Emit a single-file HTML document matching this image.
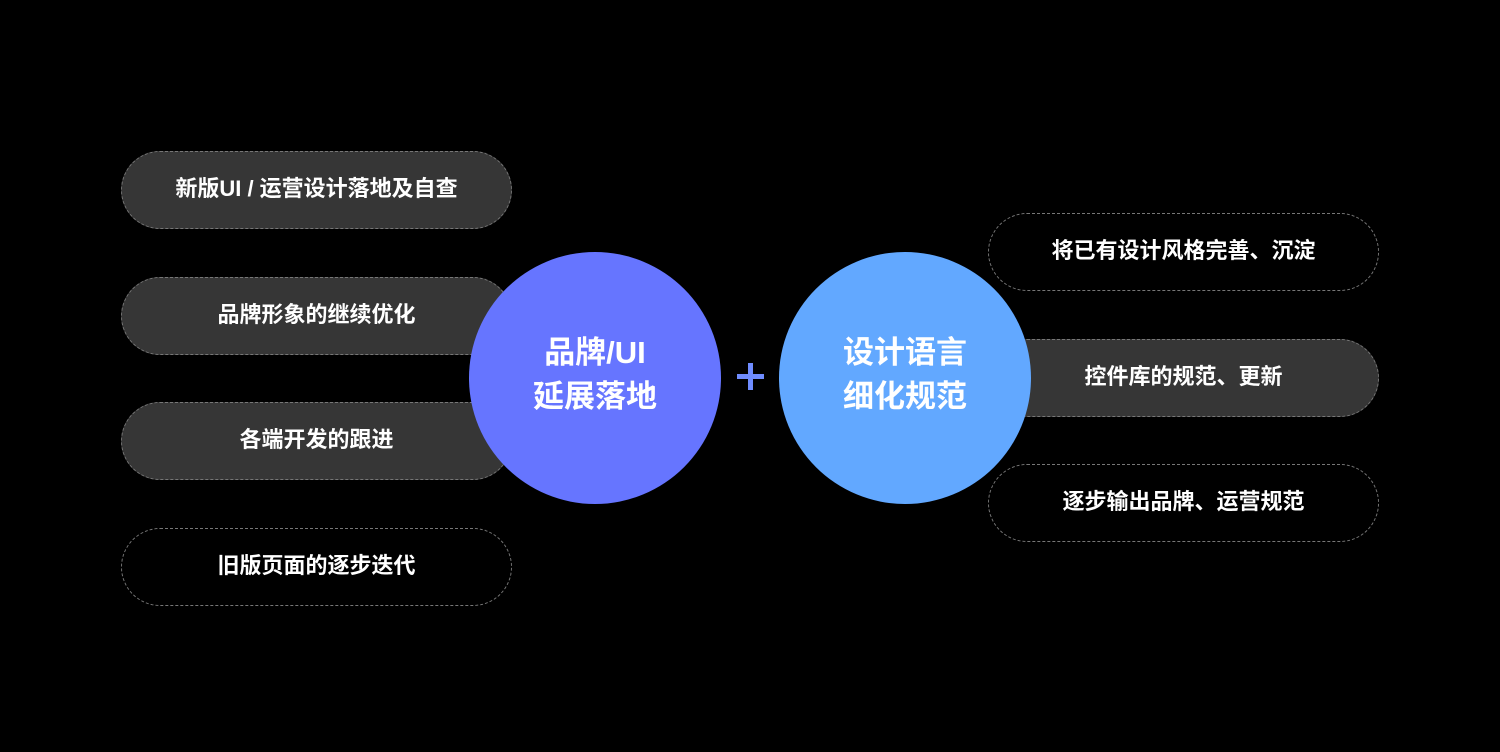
<!DOCTYPE html>
<html><head><meta charset="utf-8"><style>
body{margin:0;width:1500px;height:752px;background:#000;position:relative;overflow:hidden;font-family:"Liberation Sans","Noto Sans CJK SC",sans-serif;}
.p{position:absolute;width:389px;height:76px;border:1px dashed #777;border-radius:39px;color:#fff;font-weight:bold;font-size:22px;display:flex;align-items:center;justify-content:center;box-sizing:content-box;padding-bottom:0}
.p span{position:relative;top:-3px}
.g{background:#363636}
.c{position:absolute;width:252px;height:252px;border-radius:50%;color:#fff;font-weight:bold;font-size:31px;line-height:44px;display:flex;align-items:center;justify-content:center;text-align:center}
.c span{position:relative;top:-3px}
.h{position:absolute;background:#6f8cff}
</style></head><body>
<div class="p g" style="left:121px;top:151px"><span>新版UI / 运营设计落地及自查</span></div>
<div class="p g" style="left:121px;top:277px"><span>品牌形象的继续优化</span></div>
<div class="p g" style="left:121px;top:402px"><span>各端开发的跟进</span></div>
<div class="p" style="left:121px;top:528px"><span>旧版页面的逐步迭代</span></div>
<div class="p" style="left:988px;top:213px"><span>将已有设计风格完善、沉淀</span></div>
<div class="p g" style="left:988px;top:339px"><span>控件库的规范、更新</span></div>
<div class="p" style="left:988px;top:464px"><span>逐步输出品牌、运营规范</span></div>
<div class="c" style="left:469px;top:252px;background:#6675ff"><span>品牌/UI<br>延展落地</span></div>
<div class="c" style="left:779px;top:252px;background:#62a8ff"><span>设计语言<br>细化规范</span></div>
<div class="h" style="left:737px;top:374px;width:27px;height:5px"></div>
<div class="h" style="left:748px;top:363px;width:5px;height:27px"></div>
</body></html>
